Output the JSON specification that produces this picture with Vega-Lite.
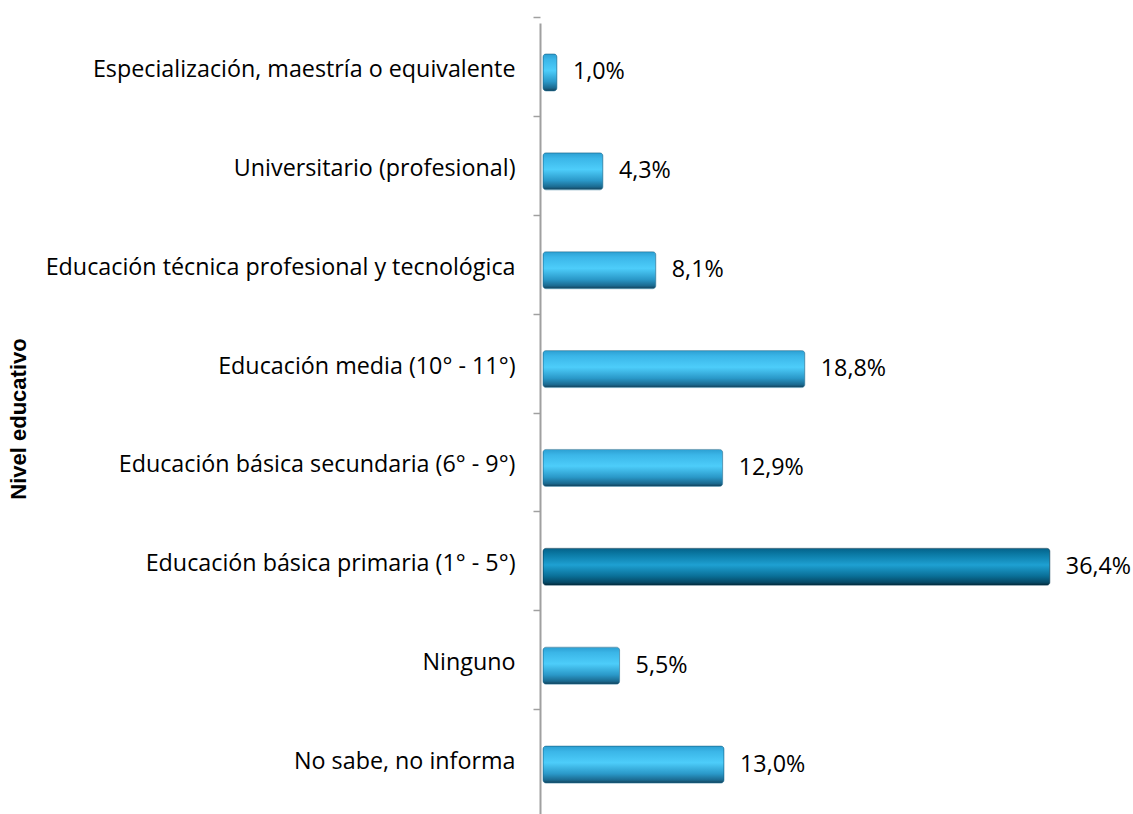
{
  "$schema": "https://vega.github.io/schema/vega-lite/v6.json",
  "autosize": {"type": "none"},
  "padding": {"left": 543, "top": 23, "right": 33, "bottom": 0},
  "width": 557,
  "height": 791,
  "background": "white",
  "config": {
    "view": {"stroke": null},
    "locale": {"number": {"decimal": ",", "thousands": ".", "grouping": [3], "currency": ["", ""]}},
    "font": "Open Sans"
  },
  "data": {
    "values": [
      {"nivel": "Especialización, maestría o equivalente", "valor": 0.010, "destacado": "no"},
      {"nivel": "Universitario (profesional)", "valor": 0.043, "destacado": "no"},
      {"nivel": "Educación técnica profesional y tecnológica", "valor": 0.081, "destacado": "no"},
      {"nivel": "Educación media (10° - 11°)", "valor": 0.188, "destacado": "no"},
      {"nivel": "Educación básica secundaria (6° - 9°)", "valor": 0.129, "destacado": "no"},
      {"nivel": "Educación básica primaria (1° - 5°)", "valor": 0.364, "destacado": "si"},
      {"nivel": "Ninguno", "valor": 0.055, "destacado": "no"},
      {"nivel": "No sabe, no informa", "valor": 0.130, "destacado": "no"}
    ]
  },
  "encoding": {
    "y": {
      "field": "nivel",
      "type": "nominal",
      "sort": [
        "Especialización, maestría o equivalente",
        "Universitario (profesional)",
        "Educación técnica profesional y tecnológica",
        "Educación media (10° - 11°)",
        "Educación básica secundaria (6° - 9°)",
        "Educación básica primaria (1° - 5°)",
        "Ninguno",
        "No sabe, no informa"
      ],
      "scale": {"paddingInner": 0, "paddingOuter": 0},
      "axis": {
        "title": "Nivel educativo",
        "titleFont": "Liberation Sans",
        "titleFontSize": 22,
        "titleFontWeight": "bold",
        "titleColor": "black",
        "titleAngle": -90,
        "titleX": -522,
        "titleBaseline": "middle",
        "labelFont": "Open Sans",
        "labelFontSize": 23.3,
        "labelColor": "black",
        "labelPadding": 18,
        "labelOffset": 3,
        "labelLimit": 600,
        "bandPosition": 0,
        "tickOffset": -6,
        "tickSize": 7,
        "tickColor": "#a0a0a0",
        "tickWidth": 1.5,
        "domainColor": "#a0a0a0",
        "domainWidth": 2,
        "offset": 3
      }
    },
    "x": {
      "field": "valor",
      "type": "quantitative",
      "scale": {"domain": [0, 0.4], "nice": false},
      "axis": null
    }
  },
  "layer": [
    {
      "transform": [{"filter": "datum.destacado == 'no'"}],
      "mark": {
        "type": "bar",
        "size": 37,
        "cornerRadius": 3,
        "stroke": "#1d6a8f",
        "strokeWidth": 0.5,
        "fill": {
          "gradient": "linear",
          "x1": 0, "y1": 0, "x2": 0, "y2": 1,
          "stops": [
            {"offset": 0, "color": "#2c9fd2"},
            {"offset": 0.15, "color": "#3bb6e8"},
            {"offset": 0.45, "color": "#4dcdfa"},
            {"offset": 0.75, "color": "#2a98c8"},
            {"offset": 0.92, "color": "#1b6a90"},
            {"offset": 1, "color": "#123f57"}
          ]
        }
      }
    },
    {
      "transform": [{"filter": "datum.destacado == 'si'"}],
      "mark": {
        "type": "bar",
        "size": 37,
        "cornerRadius": 3,
        "stroke": "#0b3d55",
        "strokeWidth": 0.5,
        "fill": {
          "gradient": "linear",
          "x1": 0, "y1": 0, "x2": 0, "y2": 1,
          "stops": [
            {"offset": 0, "color": "#04628a"},
            {"offset": 0.15, "color": "#0a78a3"},
            {"offset": 0.45, "color": "#1ea0d2"},
            {"offset": 0.75, "color": "#0a6f97"},
            {"offset": 0.92, "color": "#064a68"},
            {"offset": 1, "color": "#032838"}
          ]
        }
      }
    },
    {
      "mark": {"type": "text", "align": "left", "baseline": "middle", "dx": 16, "fontSize": 23.3, "font": "Open Sans", "color": "black"},
      "encoding": {"text": {"field": "valor", "type": "quantitative", "format": ".1%"}}
    }
  ]
}
